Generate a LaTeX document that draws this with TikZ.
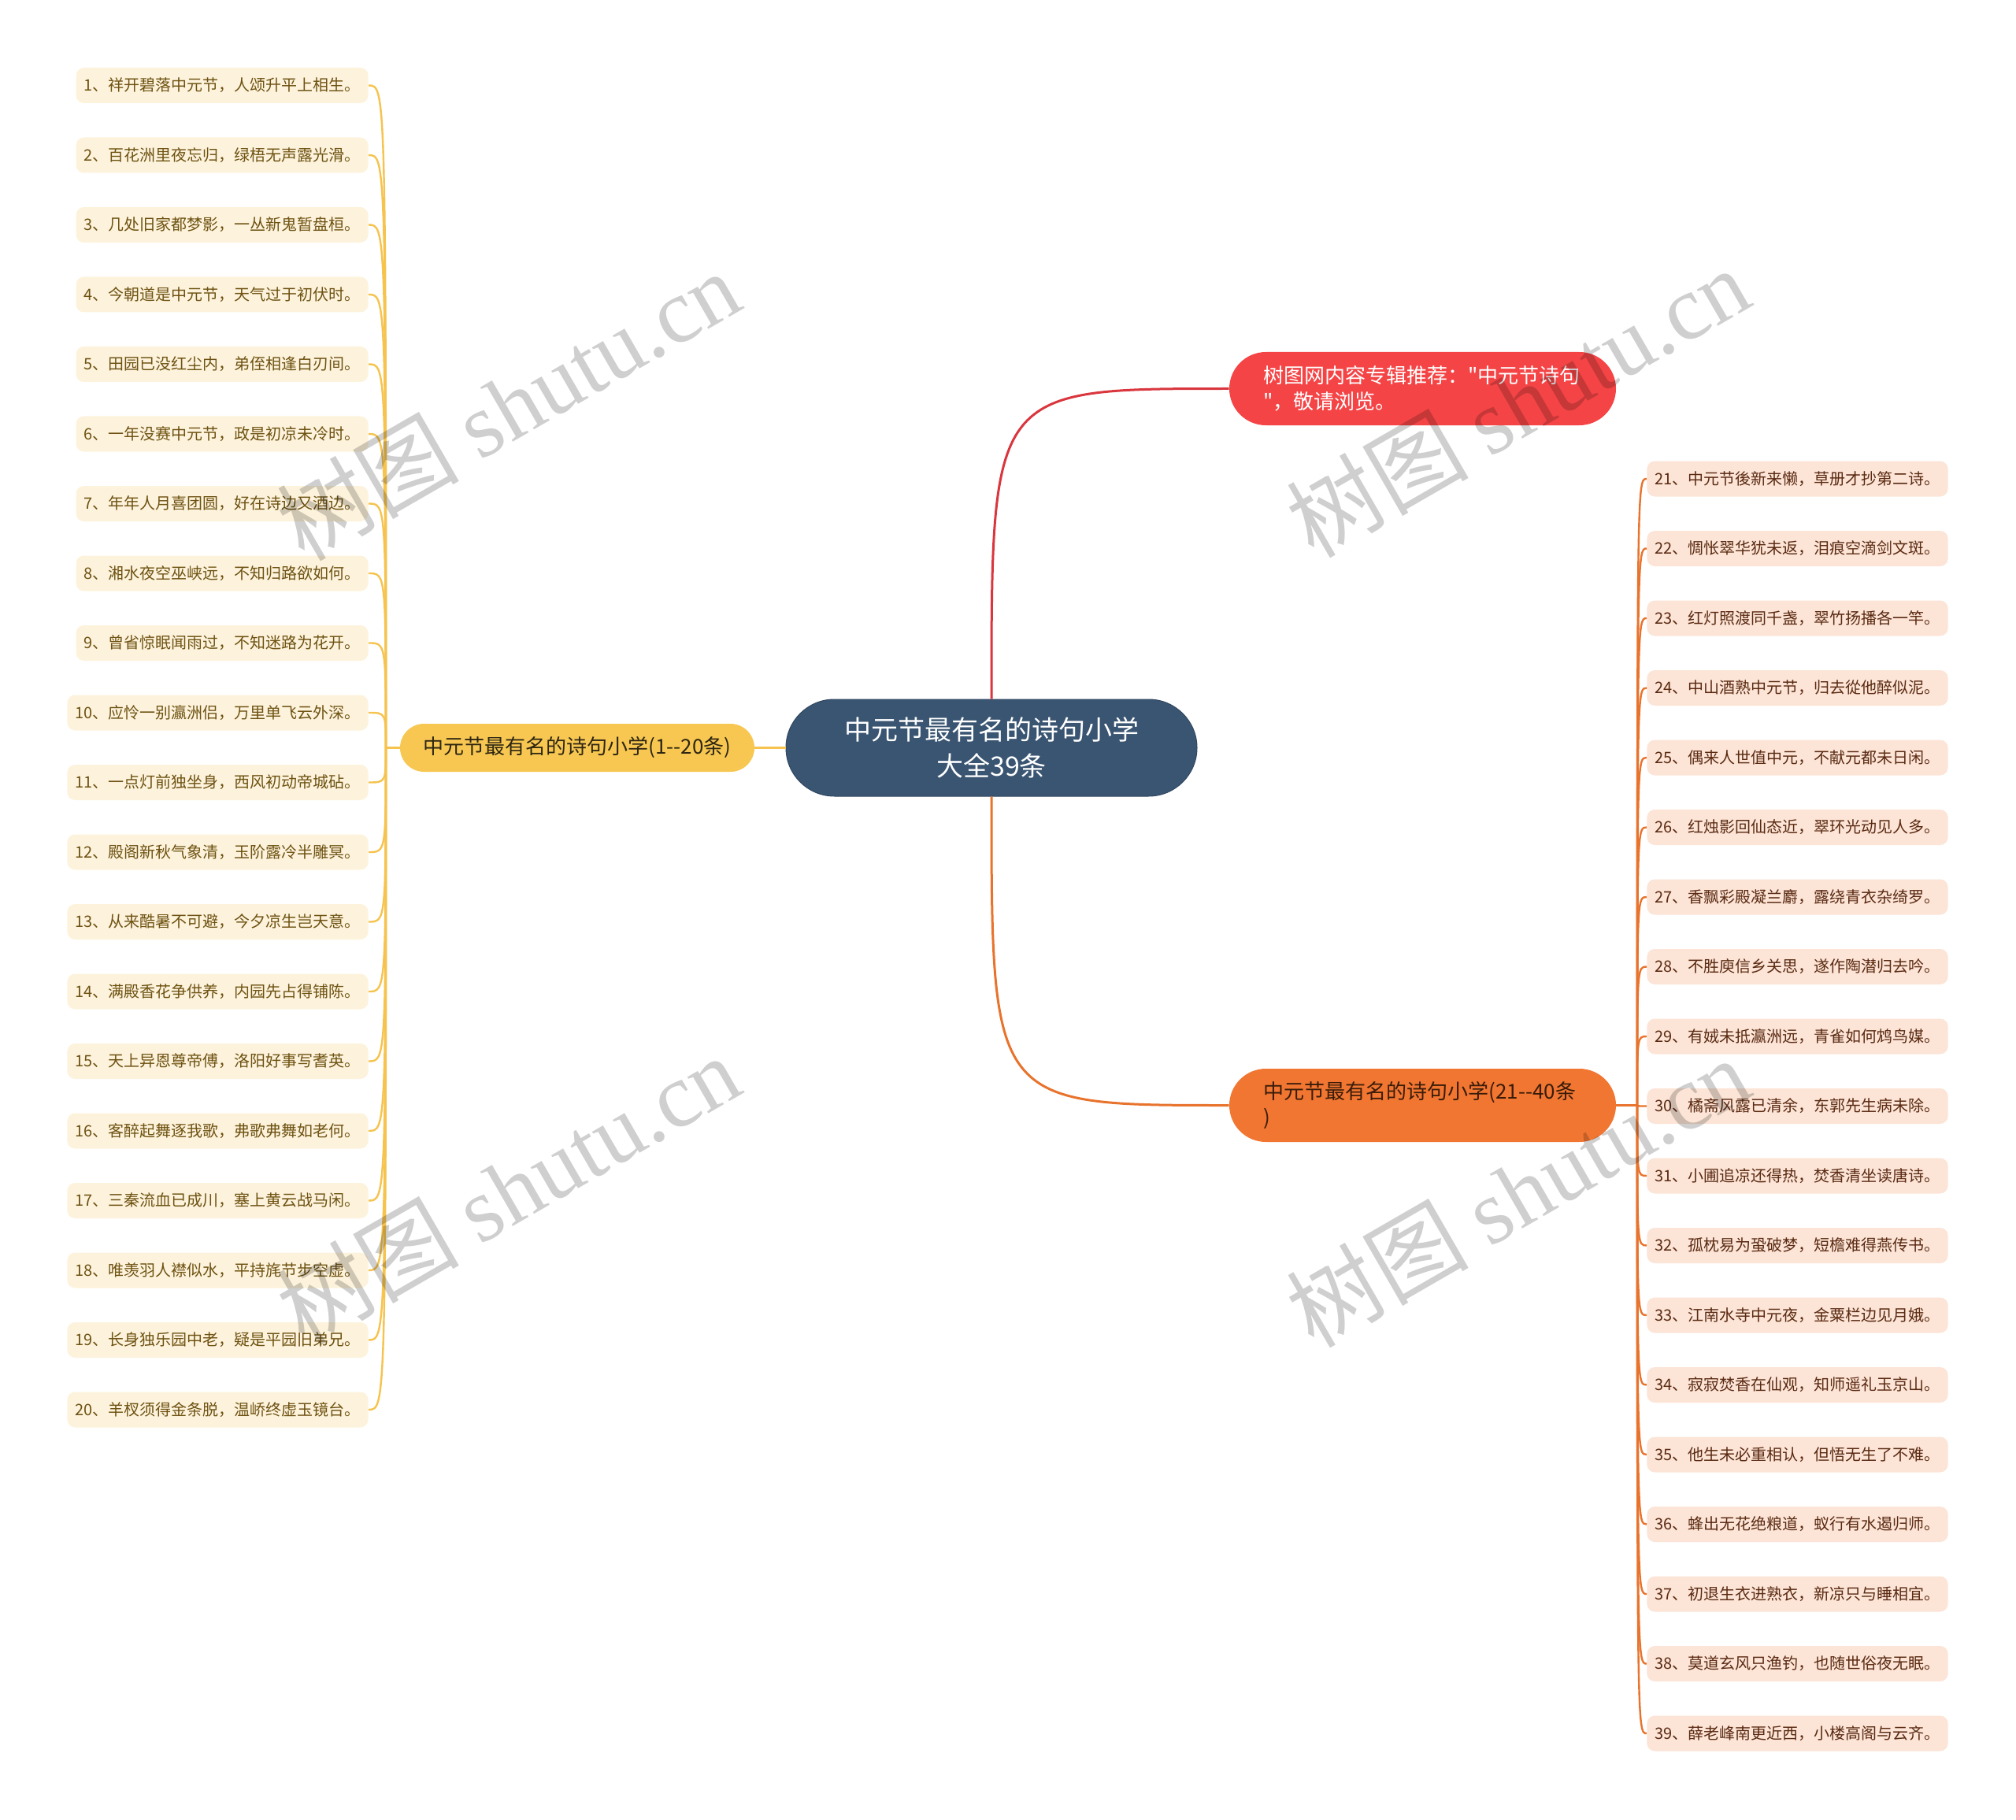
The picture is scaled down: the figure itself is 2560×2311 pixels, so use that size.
\documentclass[tikz,border=0pt]{standalone}
\usepackage{fontspec}
\setmainfont{Noto Sans CJK SC}[Ligatures=TeXOff]
\newfontfamily\wmserif{Liberation Serif}
\usetikzlibrary{calc}
\definecolor{cRoot}{HTML}{3A5572}
\definecolor{cYel}{HTML}{F7C752}
\definecolor{cYelT}{HTML}{2E2612}
\definecolor{cYelL}{HTML}{F5C34E}
\definecolor{cRed}{HTML}{F44446}
\definecolor{cRedL}{HTML}{D9363E}
\definecolor{cOra}{HTML}{F17631}
\definecolor{cOraT}{HTML}{3A1C0A}
\definecolor{cOraL}{HTML}{E8732D}
\definecolor{cLeafL}{HTML}{FDF3DC}
\definecolor{cLeafLT}{HTML}{6E5212}
\definecolor{cLeafR}{HTML}{FCE4D6}
\definecolor{cLeafRT}{HTML}{5A2A12}
\begin{document}
\begin{tikzpicture}[x=0.5pt,y=-0.5pt,
  rootbox/.style={fill=cRoot, draw=cRoot!85!black, line width=0.5pt, rounded corners=30.75pt,
    minimum width=261pt, minimum height=61.5pt, inner sep=0pt, text=white, align=center,
    font=\fontsize{17pt}{23pt}\selectfont},
  ybox/.style={fill=cYel, rounded corners=15.25pt, minimum width=225pt, minimum height=30.5pt,
    inner sep=0pt, text=cYelT, font=\fontsize{13pt}{16.5pt}\selectfont},
  twoline/.style={rounded corners=23.25pt, text width=202pt, inner xsep=21.75pt, inner ysep=0pt,
    minimum height=46.5pt, align=left, font=\fontsize{13pt}{16.5pt}\selectfont},
  redbox/.style={twoline, fill=cRed, text=white},
  orabox/.style={twoline, fill=cOra, text=cOraT},
  leafL/.style={fill=cLeafL, rounded corners=5pt, minimum height=22.5pt, inner xsep=5pt,
    inner ysep=0pt, text=cLeafLT, font=\fontsize{10pt}{12pt}\selectfont, anchor=east},
  leafR/.style={fill=cLeafR, rounded corners=5pt, minimum height=22.5pt, inner xsep=5pt,
    inner ysep=0pt, text=cLeafRT, font=\fontsize{10pt}{12pt}\selectfont, anchor=west},
  mainlink/.style={line width=1.5pt},
  leaflink/.style={line width=1.2pt},
  wmark/.style={rotate=30, text=black, text opacity=0.19, inner sep=0pt,
    font=\fontsize{58pt}{58pt}\selectfont}
]
\useasboundingbox (0,0) rectangle (2560,2311);

% main nodes
\node[rootbox] (root) at (1259,949.5) {中元节最有名的诗句小学\\大全39条};
\node[ybox] (yb) at (733,949.5) {中元节最有名的诗句小学(1-{}-20条)};
\node[redbox] (rb) at (1806.5,493.5) {树图网内容专辑推荐："中元节诗句\\"，敬请浏览。};
\node[orabox] (ob) at (1806.5,1403.5) {中元节最有名的诗句小学(21-{}-40条\\)};

% junctions
\coordinate (jl) at (490,949.5);
\coordinate (jr) at (2079,1403.5);

% left leaves
\foreach \t [count=\i] in {
1、祥开碧落中元节，人颂升平上相生。,
2、百花洲里夜忘归，绿梧无声露光滑。,
3、几处旧家都梦影，一丛新鬼暂盘桓。,
4、今朝道是中元节，天气过于初伏时。,
5、田园已没红尘内，弟侄相逢白刃间。,
6、一年没赛中元节，政是初凉未冷时。,
7、年年人月喜团圆，好在诗边又酒边。,
8、湘水夜空巫峡远，不知归路欲如何。,
9、曾省惊眠闻雨过，不知迷路为花开。,
10、应怜一别瀛洲侣，万里单飞云外深。,
11、一点灯前独坐身，西风初动帝城砧。,
12、殿阁新秋气象清，玉阶露冷半雕冥。,
13、从来酷暑不可避，今夕凉生岂天意。,
14、满殿香花争供养，内园先占得铺陈。,
15、天上异恩尊帝傅，洛阳好事写耆英。,
16、客醉起舞逐我歌，弗歌弗舞如老何。,
17、三秦流血已成川，塞上黄云战马闲。,
18、唯羡羽人襟似水，平持旄节步空虚。,
19、长身独乐园中老，疑是平园旧弟兄。,
20、羊杈须得金条脱，温峤终虚玉镜台。}
{
  \node[leafL] (L\i) at (468,{108.5+(\i-1)*88.5}) {\t};
}

% right leaves
\foreach \t [count=\i from 21] in {
21、中元节後新来懒，草册才抄第二诗。,
22、惆怅翠华犹未返，泪痕空滴剑文斑。,
23、红灯照渡同千盏，翠竹扬播各一竿。,
24、中山酒熟中元节，归去從他醉似泥。,
25、偶来人世值中元，不献元都未日闲。,
26、红烛影回仙态近，翠环光动见人多。,
27、香飘彩殿凝兰麝，露绕青衣杂绮罗。,
28、不胜庾信乡关思，遂作陶潜归去吟。,
29、有娀未抵瀛洲远，青雀如何鸩鸟媒。,
30、橘斋风露已清余，东郭先生病未除。,
31、小圃追凉还得热，焚香清坐读唐诗。,
32、孤枕易为蛩破梦，短檐难得燕传书。,
33、江南水寺中元夜，金粟栏边见月娥。,
34、寂寂焚香在仙观，知师遥礼玉京山。,
35、他生未必重相认，但悟无生了不难。,
36、蜂出无花绝粮道，蚁行有水遏归师。,
37、初退生衣进熟衣，新凉只与睡相宜。,
38、莫道玄风只渔钓，也随世俗夜无眠。,
39、薛老峰南更近西，小楼高阁与云齐。}
{
  \node[leafR] (R\i) at (2091,{608+(\i-21)*88.5}) {\t};
}

% connectors
\draw[mainlink, draw=cYelL] (root.west) -- (yb.east);
\draw[mainlink, draw=cRedL] (root.north) .. controls (root.north |- rb.west) and (root.north |- rb.west) .. (rb.west);
\draw[mainlink, draw=cOraL] (root.south) .. controls (root.south |- ob.west) and (root.south |- ob.west) .. (ob.west);
\draw[mainlink, draw=cYelL] (yb.west) -- (jl);
\draw[mainlink, draw=cOraL] (ob.east) -- (jr);
\foreach \i in {1,...,20}
  \draw[leaflink, draw=cYelL] (jl) .. controls (jl |- L\i.east) and (jl |- L\i.east) .. (L\i.east);
\foreach \i in {21,...,39}
  \draw[leaflink, draw=cOraL] (jr) .. controls (jr |- R\i.west) and (jr |- R\i.west) .. (R\i.west);

% watermarks
\node[wmark] (wm1) at (645,514) {树图 {\wmserif shutu.cn}};
\node[wmark] (wm2) at (1927,510) {树图 {\wmserif shutu.cn}};
\node[wmark] (wm3) at (645,1510) {树图 {\wmserif shutu.cn}};
\node[wmark] (wm4) at (1927,1513) {树图 {\wmserif shutu.cn}};
\end{tikzpicture}
\end{document}
